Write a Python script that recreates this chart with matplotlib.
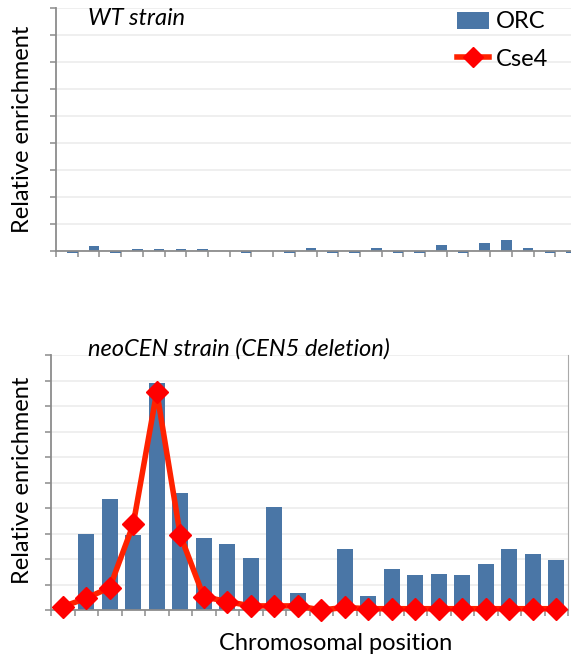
import matplotlib.pyplot as plt
from matplotlib.patches import Patch
from matplotlib.lines import Line2D
import numpy as np

plt.rcParams['font.family'] = ['Lato', 'DejaVu Sans']

# WT strain: ORC enrichment along the chromosome (Cse4 is flat here)
wt_orc = [-0.1, 0.19, -0.1, 0.08, 0.08, 0.08, 0.08, 0.0, -0.1, 0.0, -0.1, 0.1,
          -0.1, -0.1, 0.1, -0.08, -0.1, 0.2, -0.1, 0.28, 0.4, 0.1, -0.1, -0.1]

# neoCEN strain (CEN5 deletion)
neo_orc = [0.0, 3.0, 4.34, 2.94, 8.91, 4.57, 2.81, 2.58, 2.03, 4.03, 0.68, 0.0,
           2.39, 0.56, 1.61, 1.36, 1.42, 1.36, 1.79, 2.39, 2.21, 1.97]
neo_cse4 = [0.13, 0.46, 0.88, 3.36, 8.56, 2.94, 0.52, 0.33, 0.16, 0.16, 0.16, 0.0,
            0.1, 0.05, 0.05, 0.05, 0.05, 0.05, 0.05, 0.05, 0.05, 0.05]

bar_color = '#4a76a6'
line_color = '#ff2200'
axis_gray = '#8c8c8c'
grid_gray = '#ececec'
fs = 17

fig = plt.figure(figsize=(5.71, 6.59), dpi=100)
W, H = 571, 659


def px_axes(x0, y0, x1, y1):
    # axes box given in pixel coords measured from the top-left corner
    return fig.add_axes([x0 / W, 1 - y1 / H, (x1 - x0) / W, (y1 - y0) / H])


def style(ax, n, ntop):
    ax.set_xlim(-0.5, n - 0.5)
    ax.set_ylim(0, ntop)
    ax.set_yticks(np.arange(0, ntop + 1))
    ax.set_xticks(np.arange(n + 1) - 0.5)
    ax.set_yticklabels([])
    ax.set_xticklabels([])
    ax.grid(axis='y', color=grid_gray, linewidth=1.2)
    ax.set_axisbelow(True)
    for s in ['top', 'right']:
        ax.spines[s].set_visible(False)
    for s in ['left', 'bottom']:
        ax.spines[s].set_color(axis_gray)
        ax.spines[s].set_linewidth(1.3)
    ax.tick_params(length=4, width=1.1, color=axis_gray, direction='out')


# top panel: WT strain
ax1 = px_axes(56, 8, 577, 250.7)
x1 = np.arange(len(wt_orc))
ax1.bar(x1 + 0.25, wt_orc, width=0.49, color=bar_color, clip_on=False, zorder=1)
style(ax1, len(wt_orc), 9)
ax1.text(88 / W, 1 - 25 / H, 'WT strain', transform=fig.transFigure,
         fontsize=fs, style='italic')

handles = [Patch(facecolor=bar_color, edgecolor='none'),
           Line2D([], [], color=line_color, linewidth=4, marker='D',
                  markersize=10, markerfacecolor='#ff0000', markeredgecolor='#ff0000')]
fig.legend(handles, ['ORC', 'Cse4'], loc='upper left',
           bbox_to_anchor=(457 / W, 1 - 11.5 / H), frameon=False, fontsize=fs,
           borderpad=0, borderaxespad=0,
           handlelength=1.35, handleheight=0.7, handletextpad=0.3, labelspacing=0.68)

# bottom panel: neoCEN strain
ax2 = px_axes(51, 355, 568, 610)
x2 = np.arange(len(neo_orc))
ax2.bar(x2, neo_orc, width=0.68, color=bar_color, zorder=2)
ax2.plot(x2, neo_cse4, color=line_color, linewidth=4, marker='D', markersize=11,
         markerfacecolor='#ff0000', markeredgecolor='#ff0000', clip_on=False, zorder=3)
style(ax2, len(neo_orc), 10)
ax2.spines['right'].set_visible(True)
ax2.spines['right'].set_color('#aaaaaa')
ax2.text(88 / W, 1 - 356 / H, 'neoCEN strain (CEN5 deletion)', transform=fig.transFigure,
         fontsize=fs, style='italic')

for yc in [129, 480]:
    fig.text(23 / W, 1 - yc / H, 'Relative enrichment', rotation=90,
             ha='center', va='center', fontsize=fs)
fig.text(336 / W, 1 - 643 / H, 'Chromosomal position', ha='center', va='center',
         fontsize=fs)

fig.savefig('out.png', dpi=100)
